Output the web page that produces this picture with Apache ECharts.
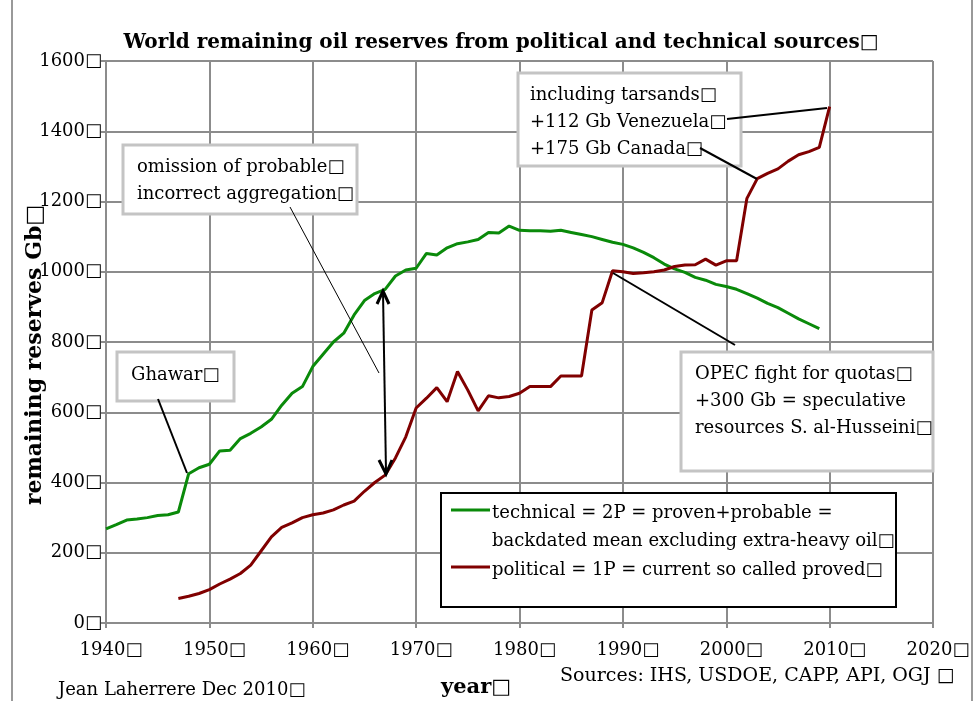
<!DOCTYPE html>
<html>
<head>
<meta charset="utf-8">
<title>World remaining oil reserves</title>
<script src="https://cdn.jsdelivr.net/npm/echarts@6/dist/echarts.min.js"></script>
<style>
  html, body { margin: 0; padding: 0; background: #fff; }
  #chart { width: 980px; height: 701px; }
</style>
</head>
<body>
<div id="chart"></div>
<script>
// technical = 2P (green)
var techYears = [1940, 1941, 1942, 1943, 1944, 1945, 1946, 1947, 1948, 1949,
  1950, 1951, 1952, 1953, 1954, 1955, 1956, 1957, 1958, 1959,
  1960, 1961, 1962, 1963, 1964, 1965, 1966, 1967, 1968, 1969,
  1970, 1971, 1972, 1973, 1974, 1975, 1976, 1977, 1978, 1979,
  1980, 1981, 1982, 1983, 1984, 1985, 1986, 1987, 1988, 1989,
  1990, 1991, 1992, 1993, 1994, 1995, 1996, 1997, 1998, 1999,
  2000, 2001, 2002, 2003, 2004, 2005, 2006, 2007, 2008, 2009];
var techValues = [268, 280, 293, 296, 300, 306, 308, 316, 425, 442,
  452, 490, 492, 525, 540, 558, 580, 620, 654, 673,
  730, 765, 800, 825, 877, 918, 938, 950, 988, 1005,
  1010, 1052, 1048, 1068, 1080, 1085, 1092, 1112, 1110, 1130,
  1118, 1117, 1117, 1115, 1118, 1112, 1106, 1100, 1092, 1084,
  1078, 1068, 1055, 1040, 1022, 1008, 998, 984, 976, 964,
  958, 950, 938, 925, 910, 898, 882, 866, 852, 838];

// political = 1P (dark red)
var polYears = [1947, 1948, 1949,
  1950, 1951, 1952, 1953, 1954, 1955, 1956, 1957, 1958, 1959,
  1960, 1961, 1962, 1963, 1964, 1965, 1966, 1967, 1968, 1969,
  1970, 1971, 1972, 1973, 1974, 1975, 1976, 1977, 1978, 1979,
  1980, 1981, 1982, 1983, 1984, 1985, 1986, 1987, 1988, 1989,
  1990, 1991, 1992, 1993, 1994, 1995, 1996, 1997, 1998, 1999,
  2000, 2001, 2002, 2003, 2004, 2005, 2006, 2007, 2008, 2009, 2010];
var polValues = [70, 76, 84,
  95, 111, 125, 141, 165, 205, 245, 272, 285, 300,
  308, 313, 322, 336, 347, 375, 400, 421, 470, 530,
  612, 640, 670, 630, 716, 663, 604, 647, 641, 645,
  654, 673, 673, 673, 703, 703, 703, 891, 912, 1003,
  1000, 995, 997, 1000, 1005, 1015, 1019, 1020, 1036, 1019,
  1031, 1031, 1209, 1265, 1280, 1293, 1315, 1333, 1342, 1354, 1470];

var yearTicks = [1940, 1950, 1960, 1970, 1980, 1990, 2000, 2010, 2020];
var reserveTicks = [0, 200, 400, 600, 800, 1000, 1200, 1400, 1600];

function pairs(xs, ys) {
  var out = [];
  for (var i = 0; i < xs.length; i++) out.push([xs[i], ys[i]]);
  return out;
}

var FONT = 'DejaVu Serif';
var BOX = '□';
var gridColor = '#8c8c8c';

function noteBox(x, y, w, h, lines, tx, ty, lh) {
  var els = [{
    type: 'rect', shape: { x: x, y: y, width: w, height: h },
    style: { fill: '#fff', stroke: '#c4c4c4', lineWidth: 3 }, z: 50
  }];
  for (var i = 0; i < lines.length; i++) {
    els.push({
      type: 'text', x: tx, y: ty + i * lh, z: 51,
      style: { text: lines[i], font: '18px "' + FONT + '"', fill: '#000', textVerticalAlign: 'middle' }
    });
  }
  return els;
}

function seg(x1, y1, x2, y2, w) {
  return { type: 'line', z: 60, shape: { x1: x1, y1: y1, x2: x2, y2: y2 },
    style: { stroke: '#000', lineWidth: w || 2 } };
}

var graphics = [];
// outer frame
graphics.push(seg(12, 0, 12, 701, 2), seg(972, 0, 972, 701, 2));
graphics[0].style.stroke = '#999'; graphics[1].style.stroke = '#999';

// title
graphics.push({ type: 'text', z: 40, x: 501, y: 43,
  style: { text: 'World remaining oil reserves from political and technical sources' + BOX,
    font: 'bold 20px "' + FONT + '"', fill: '#000', textAlign: 'center', textVerticalAlign: 'middle' } });

graphics = graphics.concat(noteBox(123, 145, 234, 69, ['omission of probable' + BOX, 'incorrect aggregation' + BOX], 137, 167, 27));
graphics = graphics.concat(noteBox(117, 352, 117, 49, ['Ghawar' + BOX], 131, 375, 27));
graphics = graphics.concat(noteBox(518, 73, 223, 93, ['including tarsands' + BOX, '+112 Gb Venezuela' + BOX, '+175 Gb Canada' + BOX], 530, 95, 27));
graphics = graphics.concat(noteBox(681, 352, 252, 119, ['OPEC fight for quotas' + BOX, '+300 Gb = speculative', 'resources S. al-Husseini' + BOX], 695, 374, 27));

// leader lines
graphics.push(seg(290, 207, 379, 373, 1));
graphics.push(seg(158, 399, 187, 473, 2));
graphics.push(seg(727, 119, 827, 108, 2));
graphics.push(seg(700, 148, 757, 179, 2));
graphics.push(seg(613, 273, 735, 345, 2));

// double arrow
graphics.push(seg(383, 292, 386, 472, 2));
graphics.push({ type: 'polyline', z: 60, shape: { points: [[377, 304], [383, 291], [389, 304]] },
  style: { stroke: '#000', lineWidth: 3, fill: null } });
graphics.push({ type: 'polyline', z: 60, shape: { points: [[379, 460], [386, 474], [392, 460]] },
  style: { stroke: '#000', lineWidth: 3, fill: null } });

// legend
graphics.push({ type: 'rect', z: 50, shape: { x: 441, y: 493, width: 455, height: 114 },
  style: { fill: '#fff', stroke: '#000', lineWidth: 2 } });
graphics.push({ type: 'line', z: 51, shape: { x1: 451, y1: 510, x2: 490, y2: 510 },
  style: { stroke: '#0a8a0a', lineWidth: 3 } });
graphics.push({ type: 'line', z: 51, shape: { x1: 451, y1: 567, x2: 490, y2: 567 },
  style: { stroke: '#800000', lineWidth: 3 } });
[['technical = 2P = proven+probable =', 513], ['backdated mean excluding extra-heavy oil' + BOX, 541],
 ['political = 1P = current so called proved' + BOX, 570]].forEach(function (t) {
  graphics.push({ type: 'text', z: 51, x: 492, y: t[1],
    style: { text: t[0], font: '18px "' + FONT + '"', fill: '#000', textVerticalAlign: 'middle' } });
});

// axis titles and footer texts
graphics.push({ type: 'text', z: 40, x: 35, y: 355, rotation: Math.PI / 2,
  style: { text: 'remaining reserves Gb' + BOX, font: 'bold 22px "' + FONT + '"', fill: '#000',
    textAlign: 'center', textVerticalAlign: 'middle' } });
graphics.push({ type: 'text', z: 40, x: 476, y: 688,
  style: { text: 'year' + BOX, font: 'bold 21px "' + FONT + '"', fill: '#000',
    textAlign: 'center', textVerticalAlign: 'middle' } });
graphics.push({ type: 'text', z: 40, x: 58, y: 690,
  style: { text: 'Jean Laherrere Dec 2010' + BOX, font: '18px "' + FONT + '"', fill: '#000',
    textVerticalAlign: 'middle' } });
graphics.push({ type: 'text', z: 40, x: 560, y: 676,
  style: { text: 'Sources: IHS, USDOE, CAPP, API, OGJ ' + BOX, font: '19px "' + FONT + '"', fill: '#000',
    textVerticalAlign: 'middle' } });

var myChart = echarts.init(document.getElementById('chart'));
var option = {
  animation: false,
  backgroundColor: '#fff',
  grid: { left: 106, top: 61, width: 827, height: 562 },
  xAxis: {
    type: 'value', min: yearTicks[0], max: yearTicks[yearTicks.length - 1], interval: 10,
    axisLine: { lineStyle: { color: gridColor, width: 2 } },
    axisTick: { show: true, length: 5, lineStyle: { color: gridColor, width: 2 } },
    splitLine: { show: true, lineStyle: { color: gridColor, width: 2 } },
    axisLabel: { margin: 18, color: '#000', fontFamily: FONT, fontSize: 18, padding: [0, 0, 0, 10],
      formatter: function (v) { return v + BOX; } }
  },
  yAxis: {
    type: 'value', min: reserveTicks[0], max: reserveTicks[reserveTicks.length - 1], interval: 200,
    axisLine: { show: true, lineStyle: { color: gridColor, width: 2 } },
    axisTick: { show: true, length: 5, lineStyle: { color: gridColor, width: 2 } },
    splitLine: { show: true, lineStyle: { color: gridColor, width: 2 } },
    axisLabel: { margin: 4, color: '#000', fontFamily: FONT, fontSize: 18,
      formatter: function (v) { return v + BOX; } }
  },
  series: [
    {
      name: 'technical = 2P = proven+probable = backdated mean excluding extra-heavy oil',
      type: 'line', data: pairs(techYears, techValues), showSymbol: false,
      lineStyle: { color: '#0a8a0a', width: 3 }, z: 10
    },
    {
      name: 'political = 1P = current so called proved',
      type: 'line', data: pairs(polYears, polValues), showSymbol: false,
      lineStyle: { color: '#800000', width: 3 }, z: 11
    }
  ],
  graphic: graphics
};
myChart.setOption(option);
window.onresize = myChart.resize;
</script>
</body>
</html>
